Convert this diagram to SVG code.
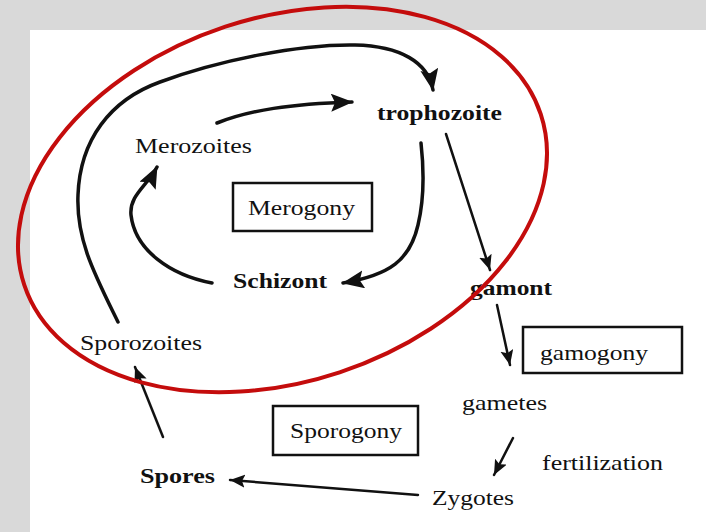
<svg xmlns="http://www.w3.org/2000/svg" width="706" height="532" viewBox="0 0 706 532">
<defs>
<style>
.t{font-family:"Liberation Serif","Times New Roman",serif;font-size:21px;fill:#111}
.b{font-weight:bold}
.box{fill:#fff;stroke:#111;stroke-width:2.5}
.cv{fill:none;stroke:#111;stroke-width:3.5;stroke-linecap:round}
.st{fill:none;stroke:#111;stroke-width:2.5;stroke-linecap:round}
</style>
<marker id="ah" markerUnits="userSpaceOnUse" markerWidth="24" markerHeight="20" refX="21" refY="9" orient="auto">
<path d="M0,0 L22,9 L0,18 L4,9 z" fill="#111"/>
</marker>
<marker id="as" markerUnits="userSpaceOnUse" markerWidth="18" markerHeight="14" refX="15" refY="6.5" orient="auto">
<path d="M0,0 L15,6.5 L0,13 L3,6.5 z" fill="#111"/>
</marker>
</defs>
<rect x="0" y="0" width="706" height="532" fill="#d9d9d9"/>
<rect x="30" y="30" width="676" height="502" fill="#fff"/>
<g id="connectors">
<path class="cv" marker-end="url(#ah)" d="M118,322 C95,275 76,240 78,195 C80,140 110,100 160,82 C220,60 300,44 355,45 C400,46 428,62 433,90"/>
<path class="cv" marker-end="url(#ah)" d="M217,123 C250,110 290,104 352,102"/>
<path class="cv" marker-end="url(#ah)" d="M212,283 C170,275 135,250 131,215 C129,195 148,185 157,167"/>
<path class="cv" marker-end="url(#ah)" d="M421,143 C424,170 424,200 418,225 C410,260 390,275 343,283"/>
<path class="st" marker-end="url(#as)" d="M446,134 L490,270"/>
<path class="st" marker-end="url(#as)" d="M497,305 L510,365"/>
<path class="st" marker-end="url(#as)" d="M513,438 L494,475"/>
<path class="st" marker-end="url(#as)" d="M418,495 L230,480"/>
<path class="st" marker-end="url(#as)" d="M163,437 L135,367"/>
</g>
<g id="trophozoite"><text class="t b" x="377" y="120" textLength="125" lengthAdjust="spacingAndGlyphs">trophozoite</text></g>
<g id="merozoites"><text class="t" x="135" y="153" textLength="117" lengthAdjust="spacingAndGlyphs">Merozoites</text></g>
<g id="merogony"><rect class="box" x="233" y="183" width="139" height="48"/><text class="t" x="248" y="215" textLength="107" lengthAdjust="spacingAndGlyphs">Merogony</text></g>
<g id="schizont"><text class="t b" x="233" y="288" textLength="94" lengthAdjust="spacingAndGlyphs">Schizont</text></g>
<g id="gamont"><text class="t b" x="470" y="295" textLength="82" lengthAdjust="spacingAndGlyphs">gamont</text></g>
<g id="gamogony"><rect class="box" x="523" y="327" width="159" height="46"/><text class="t" x="540" y="360" textLength="108" lengthAdjust="spacingAndGlyphs">gamogony</text></g>
<g id="gametes"><text class="t" x="462" y="410" textLength="85" lengthAdjust="spacingAndGlyphs">gametes</text></g>
<g id="fertilization"><text class="t" x="542" y="470" textLength="121" lengthAdjust="spacingAndGlyphs">fertilization</text></g>
<g id="zygotes"><text class="t" x="432" y="505" textLength="82" lengthAdjust="spacingAndGlyphs">Zygotes</text></g>
<g id="spores"><text class="t b" x="140" y="483" textLength="75" lengthAdjust="spacingAndGlyphs">Spores</text></g>
<g id="sporozoites"><text class="t" x="80" y="350" textLength="122" lengthAdjust="spacingAndGlyphs">Sporozoites</text></g>
<g id="sporogony"><rect class="box" x="273" y="406" width="145" height="49"/><text class="t" x="290" y="438" textLength="112" lengthAdjust="spacingAndGlyphs">Sporogony</text></g>
<g id="merogony-cycle"><ellipse cx="282.5" cy="199.5" rx="272" ry="182" transform="rotate(-18.3 282.5 199.5)" fill="none" stroke="#c40c0c" stroke-width="4"/></g>
</svg>
